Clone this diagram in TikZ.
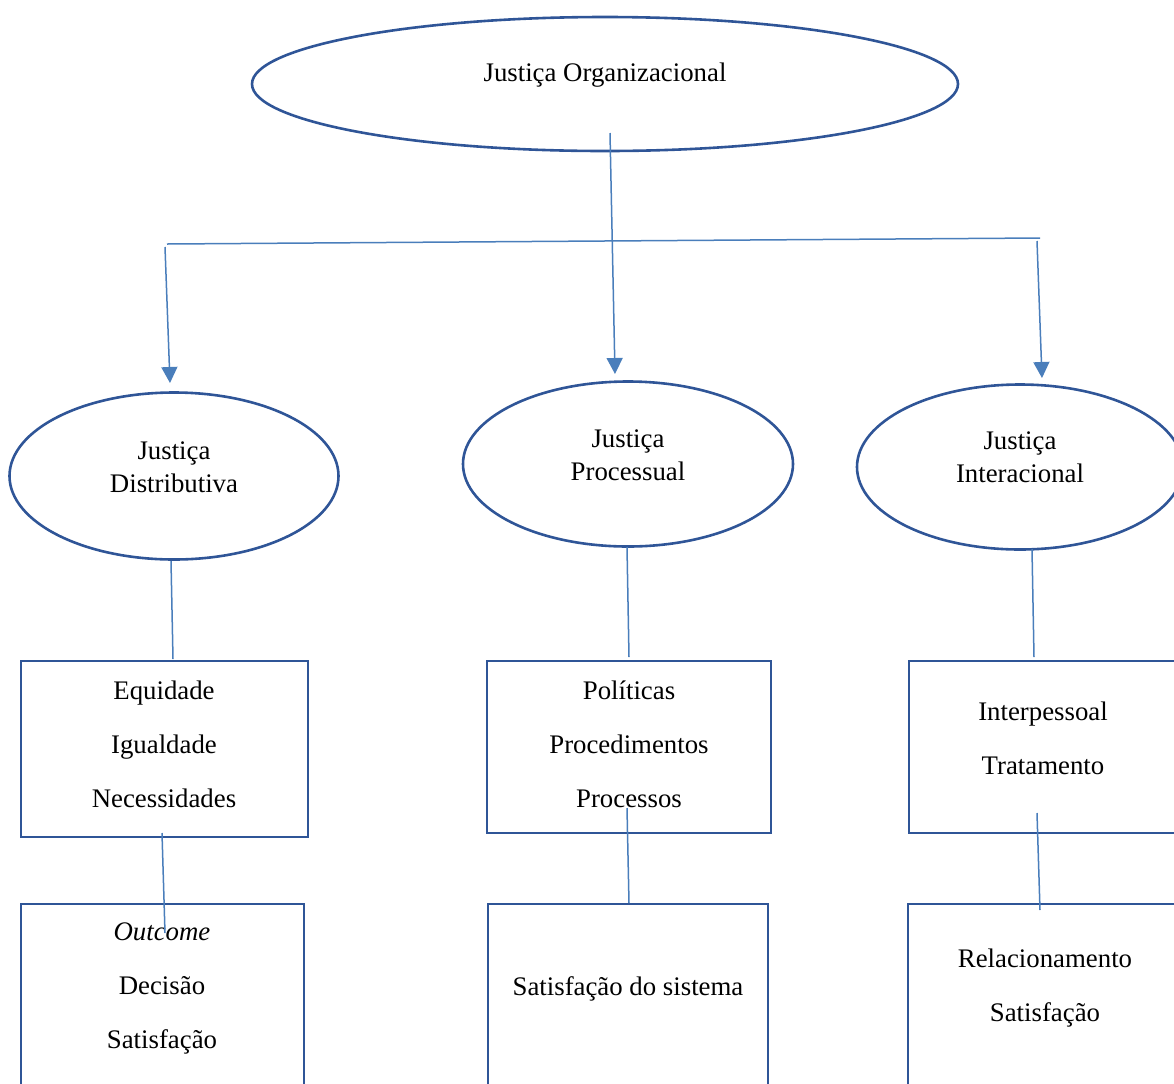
\documentclass[tikz,border=0pt]{standalone}
\usepackage{fontspec}
\setmainfont{Liberation Serif}
\usetikzlibrary{shapes.geometric,arrows.meta}
\definecolor{shapeblue}{HTML}{2F5597}
\definecolor{lineblue}{HTML}{4A7EBB}

\begin{document}
\begin{tikzpicture}[x = 0.5pt, y = -0.5pt,
oval/.style = {ellipse, draw = shapeblue, line width = 1.3pt, inner sep = 0pt},
box/.style = {rectangle, draw = shapeblue, line width = 1.3pt, inner sep = 0pt},
ovaltxt/.style = {align = center, font = \fontsize{13.4}{16.5}\selectfont},
boxtxt/.style = {align = center, font = \fontsize{13.4}{27}\selectfont},
link/.style = {draw = lineblue, line width = 0.75pt},
arrow/.style = {link, -{Triangle[width = 8pt, length = 8pt]}}]

\useasboundingbox (0,0) rectangle (1174,1083);
\clip (0,0) rectangle (1174,1083);

% Ellipses
\node[oval, minimum width = 353pt, minimum height = 67pt] (org) at (605,84) {};
\node[ovaltxt] (org-t) at (605,75) {Justiça Organizacional};
\node[oval, minimum width = 164.5pt, minimum height = 83.5pt] (dist) at (174,476) {};
\node[ovaltxt] (dist-t) at (174,467.5) {Justiça\\Distributiva};
\node[oval, minimum width = 165pt, minimum height = 82.5pt] (proc) at (628,464) {};
\node[ovaltxt] (proc-t) at (628,455.5) {Justiça\\Processual};
\node[oval, minimum width = 163pt, minimum height = 82.5pt] (inter) at (1020,467) {};
\node[ovaltxt] (inter-t) at (1020,457.5) {Justiça\\Interacional};

% Boxes
\node[box, minimum width = 143.5pt, minimum height = 88pt] (dist-a) at (164.5,749) {};
\node[boxtxt] (dist-a-t) at (164,744) {Equidade\\Igualdade\\Necessidades};
\node[box, minimum width = 141.5pt, minimum height = 103pt] (dist-b) at (162.5,1007) {};
\node[boxtxt] (dist-b-t) at (162,988) {\textit{Outcome}\\Decisão\\Satisfação};
\node[box, minimum width = 142pt, minimum height = 86pt] (proc-a) at (629,747) {};
\node[boxtxt] (proc-a-t) at (629,744) {Políticas\\Procedimentos\\Processos};
\node[box, minimum width = 140pt, minimum height = 103pt] (proc-b) at (628,1007) {};
\node[boxtxt] (proc-b-t) at (628,989) {Satisfação do sistema};
\node[box, minimum width = 145.5pt, minimum height = 86pt] (inter-a) at (1054.5,747) {};
\node[boxtxt] (inter-a-t) at (1043,738) {Interpessoal\\Tratamento};
\node[box, minimum width = 146pt, minimum height = 103pt] (inter-b) at (1054,1007) {};
\node[boxtxt] (inter-b-t) at (1045,988.5) {Relacionamento\\Satisfação};

% Connector ends
\coordinate (org-out) at (610,133);
\coordinate (proc-in) at (615,374);
\coordinate (bar-l) at (167,244);
\coordinate (bar-r) at (1040,238);
\coordinate (dist-in0) at (165,247);
\coordinate (dist-in) at (170,383);
\coordinate (inter-in0) at (1037,241);
\coordinate (inter-in) at (1042,378);
\coordinate (dist-s) at (171,561);
\coordinate (dist-a-n) at (173,659);
\coordinate (dist-a-s) at (162,833);
\coordinate (dist-b-n) at (165,933);
\coordinate (proc-s) at (627,547);
\coordinate (proc-a-n) at (629,657);
\coordinate (proc-a-s) at (627,808);
\coordinate (proc-b-n) at (629,903);
\coordinate (inter-s) at (1032,549);
\coordinate (inter-a-n) at (1034,657);
\coordinate (inter-a-s) at (1037,813);
\coordinate (inter-b-n) at (1040,910);

% Connect
\draw[arrow] (org-out) -- (proc-in);
\draw[link] (bar-l) -- (bar-r);
\draw[arrow] (dist-in0) -- (dist-in);
\draw[arrow] (inter-in0) -- (inter-in);
\draw[link] (dist-s) -- (dist-a-n);
\draw[link] (dist-a-s) -- (dist-b-n);
\draw[link] (proc-s) -- (proc-a-n);
\draw[link] (proc-a-s) -- (proc-b-n);
\draw[link] (inter-s) -- (inter-a-n);
\draw[link] (inter-a-s) -- (inter-b-n);

\end{tikzpicture}
\end{document}
